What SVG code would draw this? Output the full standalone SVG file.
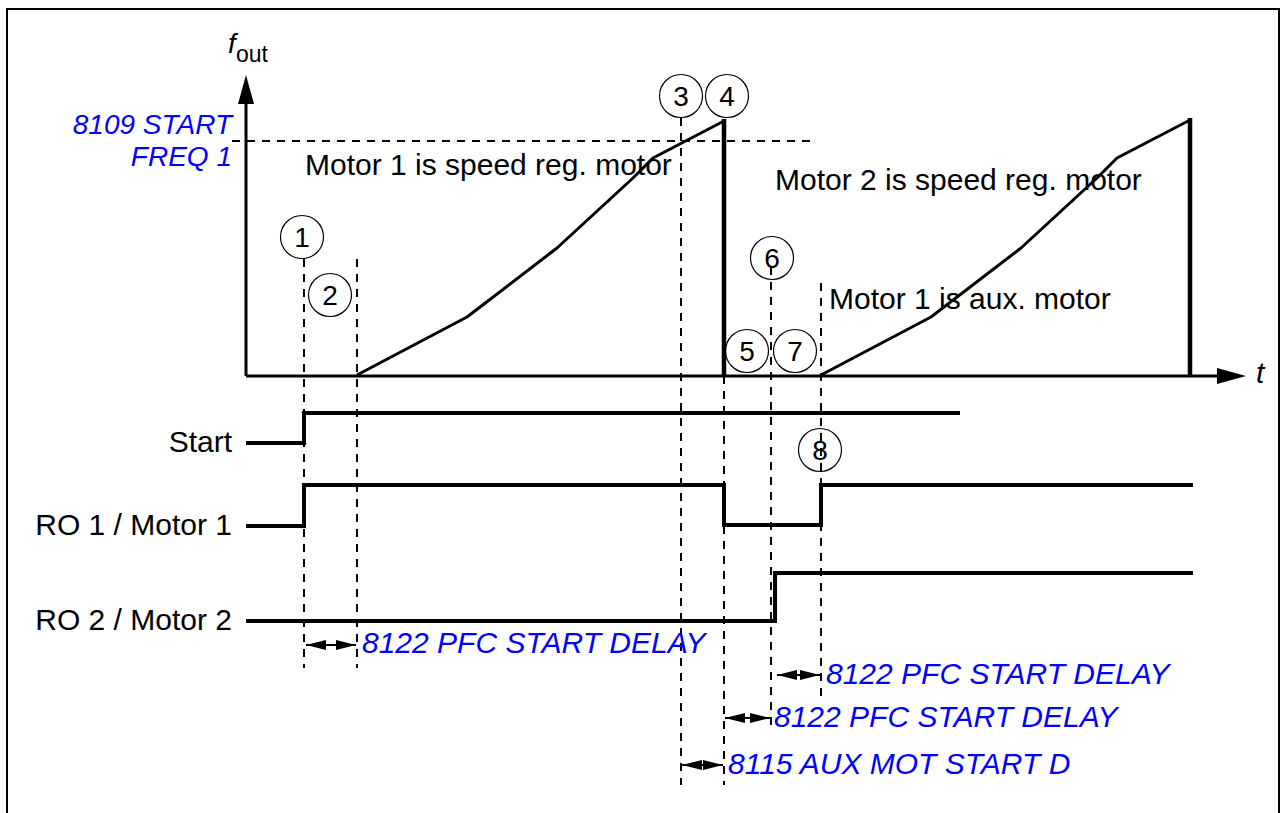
<svg xmlns="http://www.w3.org/2000/svg" width="1283" height="813" viewBox="0 0 1283 813">
<style>
.lbl{font-family:"Liberation Sans",Arial,sans-serif;font-size:30px;fill:#000}
.par{font-family:"Liberation Sans",Arial,sans-serif;font-size:30px;font-style:italic;fill:#0000ff}
.num{font-family:"Liberation Sans",Arial,sans-serif;font-size:28px;fill:#000;text-anchor:middle}
.dash{stroke:#000;stroke-width:2;stroke-dasharray:8 7;fill:none}
.ax{stroke:#000;stroke-width:3;fill:none}
.sig{stroke:#000;stroke-width:4;fill:none;stroke-linejoin:miter}
.ramp{stroke:#000;stroke-width:3;fill:none;stroke-linejoin:round}
.circ{stroke:#000;stroke-width:1.2;fill:none}
.dim{stroke:#000;stroke-width:2;fill:none}
</style>
<defs>
<marker id="ah" viewBox="0 0 20 10" refX="20" refY="5" markerWidth="20" markerHeight="10" markerUnits="userSpaceOnUse" orient="auto-start-reverse">
<path d="M0,0 L20,5 L0,10 Z" fill="#000"/>
</marker>
</defs>
<rect x="0" y="0" width="1283" height="813" fill="#fff"/>
<rect x="7" y="9" width="1272" height="830" fill="none" stroke="#000" stroke-width="2"/>

<g id="axes">
<line class="ax" x1="246" y1="376" x2="246" y2="102"/>
<path d="M246,75 L254,104 L238,104 Z" fill="#000"/>
<line class="ax" x1="246" y1="376" x2="1218" y2="376"/>
<path d="M1246,376 L1217,368 L1217,384 Z" fill="#000"/>
<text x="228" y="53" class="lbl" style="font-style:italic;font-size:28px">f</text>
<text x="236" y="62" class="lbl" style="font-size:23px">out</text>
<text x="1256" y="383" class="lbl" style="font-style:italic">t</text>
</g>

<g id="connectors">
<line class="dash" x1="232" y1="141" x2="812" y2="141"/>
<line class="dash" x1="304" y1="259" x2="304" y2="668"/>
<line class="dash" x1="357" y1="259" x2="357" y2="668"/>
<line class="dash" x1="681" y1="118" x2="681" y2="785"/>
<line class="dash" x1="724" y1="376" x2="724" y2="785"/>
<line class="dash" x1="771" y1="267" x2="771" y2="730"/>
<line class="dash" x1="821" y1="283" x2="821" y2="697"/>
</g>

<g id="curve1">
<polyline class="ramp" points="357,375 467,317 557,248 633,178 653,158 724,121"/>
<line x1="724" y1="119" x2="724" y2="377" stroke="#000" stroke-width="4.5"/>
</g>
<g id="curve2">
<polyline class="ramp" points="821,375 931,317 1021,248 1097,178 1117,158 1190,120"/>
<line x1="1190" y1="118" x2="1190" y2="377" stroke="#000" stroke-width="4.5"/>
</g>

<g id="region-labels">
<text x="305" y="175" class="lbl">Motor 1 is speed reg. motor</text>
<text x="775" y="190" class="lbl">Motor 2 is speed reg. motor</text>
<text x="829" y="309" class="lbl">Motor 1 is aux. motor</text>
<text class="par" text-anchor="end" style="font-size:28px"><tspan x="232" y="134">8109 START</tspan><tspan x="232" y="166">FREQ 1</tspan></text>
</g>

<g id="start">
<text x="232" y="452" class="lbl" text-anchor="end">Start</text>
<polyline class="sig" points="246,443 304,443 304,413 960,413"/>
</g>
<g id="ro1">
<text x="232" y="535" class="lbl" text-anchor="end">RO 1 / Motor 1</text>
<polyline class="sig" points="246,526 304,526 304,485 724,485 724,525 821,525 821,485 1193,485"/>
</g>
<g id="ro2">
<text x="232" y="630" class="lbl" text-anchor="end">RO 2 / Motor 2</text>
<polyline class="sig" points="246,621 775,621 775,573 1193,573"/>
</g>

<g id="circle1"><circle class="circ" cx="302" cy="237" r="21.5"/><text x="302" y="247" class="num">1</text></g>
<g id="circle2"><circle class="circ" cx="330" cy="295" r="21.5"/><text x="330" y="305" class="num">2</text></g>
<g id="circle3"><circle class="circ" cx="681" cy="96" r="21.5"/><text x="681" y="106" class="num">3</text></g>
<g id="circle4"><circle class="circ" cx="727" cy="96" r="21.5"/><text x="727" y="106" class="num">4</text></g>
<g id="circle5"><circle class="circ" cx="747" cy="351" r="21.5"/><text x="747" y="361" class="num">5</text></g>
<g id="circle6"><circle class="circ" cx="772" cy="258" r="21.5"/><text x="772" y="268" class="num">6</text></g>
<g id="circle7"><circle class="circ" cx="795" cy="351" r="21.5"/><text x="795" y="361" class="num">7</text></g>
<g id="circle8"><circle class="circ" cx="820" cy="450" r="21.5"/><text x="820" y="460" class="num">8</text></g>

<g id="delays">
<line class="dim" x1="306" y1="645" x2="356" y2="645" marker-start="url(#ah)" marker-end="url(#ah)"/>
<text x="362" y="653" class="par">8122 PFC START DELAY</text>
<line class="dim" x1="777" y1="675" x2="820" y2="675" marker-start="url(#ah)" marker-end="url(#ah)"/>
<text x="826" y="684" class="par">8122 PFC START DELAY</text>
<line class="dim" x1="725" y1="718" x2="770" y2="718" marker-start="url(#ah)" marker-end="url(#ah)"/>
<text x="774" y="727" class="par">8122 PFC START DELAY</text>
<line class="dim" x1="682" y1="765" x2="723" y2="765" marker-start="url(#ah)" marker-end="url(#ah)"/>
<text x="728" y="774" class="par">8115 AUX MOT START D</text>
</g>
</svg>
